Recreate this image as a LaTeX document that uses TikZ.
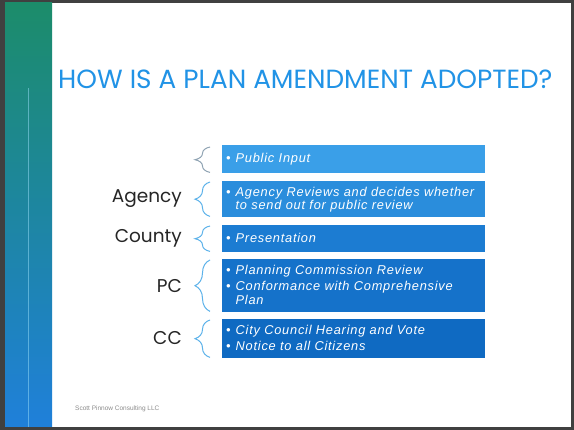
\documentclass[tikz,border=0pt]{standalone}
\usepackage{fontspec}
\setmainfont{Liberation Sans}
\newfontfamily\headfont{Poppins}
\newfontfamily\stagefont[LetterSpace=6]{Liberation Sans}
\usetikzlibrary{positioning,calc,decorations.pathreplacing}
\usepackage{xcolor}

\definecolor{barGreen}{HTML}{1C8C6A}
\definecolor{barTeal}{HTML}{1E8A9A}
\definecolor{barBlue}{HTML}{1F80DA}
\definecolor{titleBlue}{HTML}{2193E6}
\definecolor{stageA}{HTML}{3A9FE8}
\definecolor{stageB}{HTML}{2A8DDC}
\definecolor{stageC}{HTML}{1C7CD2}
\definecolor{stageD}{HTML}{1572CA}
\definecolor{stageE}{HTML}{0F6AC2}
\definecolor{braceBlue}{HTML}{5CB2EA}
\definecolor{braceGray}{HTML}{8FA3B3}

\begin{document}
\begin{tikzpicture}[x=1pt, y=-1pt,
    stagebox/.style={fill=#1, minimum width=263pt, anchor=north west, inner sep=0pt},
    stagetext/.style={text=white, anchor=west, align=left, inner sep=0pt,
        font=\stagefont\itshape\fontsize{12.8}{13.2}\selectfont},
    bracemark/.style={draw=#1, line width=1pt, decorate, decoration={brace, amplitude=15pt}},
    agent/.style={anchor=east, inner sep=0pt, text=black!85, font=\headfont\fontsize{18.5}{22}\selectfont}]
    % Slide frame and side bar
    \fill[black!75] (0,0) rectangle (574,430);
    \fill[white] (5,3) rectangle (571,427);
    \shade[top color=barGreen, middle color=barTeal, bottom color=barBlue] (5,3) rectangle (52,427);
    \draw[cyan!40, opacity=0.5, line width=0.6pt] (28,88) -- (28,427);

    % Title
    \node[anchor=west, inner sep=0pt, text=titleBlue, font=\headfont\fontsize{26.3}{30}\selectfont] (title) at (58,79) {HOW IS A PLAN AMENDMENT ADOPTED?};

    % Stage boxes
    \node[stagebox=stageA, minimum height=28pt] (input) at (222,145) {};
    \node[stagebox=stageB, minimum height=36pt] (agencybox) at (222,181) {};
    \node[stagebox=stageC, minimum height=27pt] (countybox) at (222,225) {};
    \node[stagebox=stageD, minimum height=53pt] (pcbox) at (222,259) {};
    \node[stagebox=stageE, minimum height=39pt] (ccbox) at (222,319) {};

    % Box texts
    \node[stagetext] (inputtxt) at ([xshift=4pt,yshift=-1pt]input.west)
        {\begin{tabular}{@{}l@{\hspace{5pt}}l@{}}\textbullet & Public Input\end{tabular}};
    \node[stagetext] (agencytxt) at ([xshift=4pt,yshift=-1pt]agencybox.west)
        {\begin{tabular}{@{}l@{\hspace{5pt}}l@{}}\textbullet & Agency Reviews and decides whether\\ & to send out for public review\end{tabular}};
    \node[stagetext] (countytxt) at ([xshift=4pt,yshift=-1pt]countybox.west)
        {\begin{tabular}{@{}l@{\hspace{5pt}}l@{}}\textbullet & Presentation\end{tabular}};
    \node[stagetext] (pctxt) at ([xshift=4pt,yshift=-1pt]pcbox.west)
        {\begin{tabular}{@{}l@{\hspace{5pt}}l@{}}\textbullet & Planning Commission Review\\[3pt] \textbullet & Conformance with Comprehensive\\ & Plan\end{tabular}};
    \node[stagetext] (cctxt) at ([xshift=4pt,yshift=-1pt]ccbox.west)
        {\begin{tabular}{@{}l@{\hspace{5pt}}l@{}}\textbullet & City Council Hearing and Vote\\[3pt] \textbullet & Notice to all Citizens\end{tabular}};

    % Braces
    \draw[bracemark=braceGray] ([xshift=-12pt,yshift=1pt]input.south west) -- ([xshift=-12pt,yshift=-2pt]input.north west);
    \draw[bracemark=braceBlue] ([xshift=-12pt,yshift=1pt]agencybox.south west) -- ([xshift=-12pt,yshift=-1pt]agencybox.north west);
    \draw[bracemark=braceBlue] ([xshift=-12pt,yshift=1pt]countybox.south west) -- ([xshift=-12pt,yshift=-1pt]countybox.north west);
    \draw[bracemark=braceBlue] ([xshift=-12pt,yshift=1pt]pcbox.south west) -- ([xshift=-12pt,yshift=-1pt]pcbox.north west);
    \draw[bracemark=braceBlue] ([xshift=-12pt,yshift=1pt]ccbox.south west) -- ([xshift=-12pt,yshift=-1pt]ccbox.north west);

    % Labels
    \node[agent] (agency) at (182,199) {Agency};
    \node[agent] (county) at (182,238) {County};
    \node[agent] (pc) at (182,286) {PC};
    \node[agent] (cc) at (182,338) {CC};

    % Footer
    \node[anchor=west, inner sep=0pt, text=black!45, font=\fontsize{6.5}{8}\selectfont] (footer) at (75,409) {Scott Pinnow Consulting LLC};
\end{tikzpicture}
\end{document}
